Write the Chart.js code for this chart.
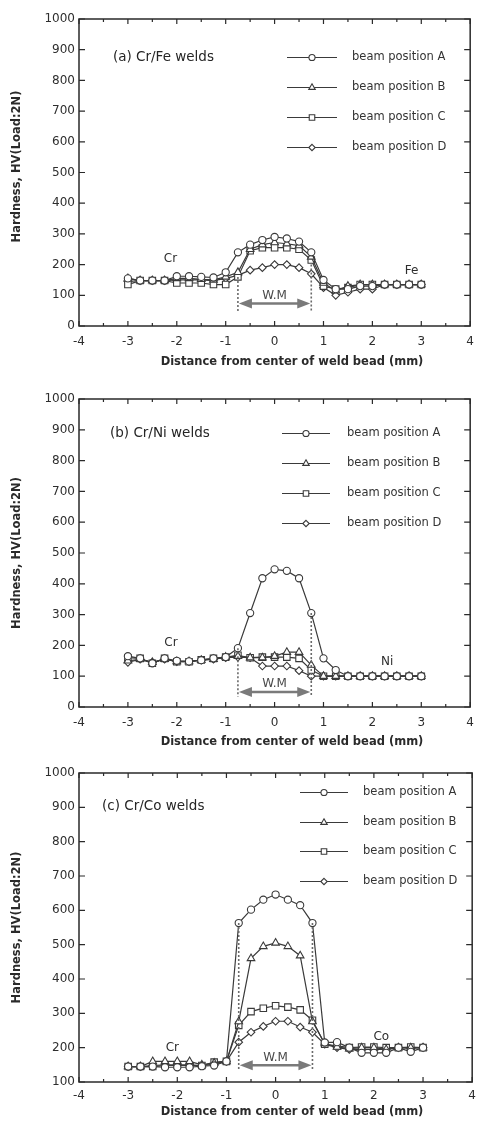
<!DOCTYPE html>
<html>
<head>
<meta charset="utf-8">
<script src="https://cdn.jsdelivr.net/npm/chart.js@4.4.1/dist/chart.umd.min.js"></script>
<style>
html,body{margin:0;padding:0;background:#ffffff;}
#wrap{position:relative;width:483px;height:1121px;overflow:hidden;background:#fff;}
#wrap canvas{position:absolute;left:0;}
</style>
</head>
<body>
<div id="wrap">
<canvas id="panelA" width="483" height="369" style="top:0px"></canvas>
<canvas id="panelB" width="483" height="380" style="top:369px"></canvas>
<canvas id="panelC" width="483" height="372" style="top:749px"></canvas>
</div>
<script>
// ---------------- data ----------------
const distanceMm = [-3,-2.75,-2.5,-2.25,-2,-1.75,-1.5,-1.25,-1,-0.75,-0.5,-0.25,0,0.25,0.5,0.75,1,1.25,1.5,1.75,2,2.25,2.5,2.75,3];
const seriesNames = ['beam position A','beam position B','beam position C','beam position D'];
const xTickValues = [-4,-3,-2,-1,0,1,2,3,4];
const yTicksFromZero = [0,100,200,300,400,500,600,700,800,900,1000];
const yTicksFromHundred = [100,200,300,400,500,600,700,800,900,1000];
const xTitle = 'Distance from center of weld bead (mm)';
const yTitle = 'Hardness, HV(Load:2N)';

// (a) Cr/Fe welds
const crFeA = [155,148,148,148,162,162,160,158,175,240,265,280,290,285,275,240,150,120,120,130,130,135,135,135,135];
const crFeB = [155,148,148,148,155,155,152,150,160,175,250,265,272,268,262,225,140,115,130,135,135,135,135,135,135];
const crFeC = [135,148,148,148,140,140,140,135,135,160,245,255,255,255,250,215,130,120,125,135,135,135,135,135,135];
const crFeD = [145,148,148,148,150,150,150,148,155,165,182,190,200,200,190,170,125,100,110,120,120,135,135,135,135];

// (b) Cr/Ni welds
const crNiA = [165,158,142,158,150,148,152,158,162,191,305,418,447,442,418,305,158,120,100,100,100,100,100,100,100];
const crNiB = [150,155,145,155,148,148,152,155,162,165,160,160,165,178,178,136,100,100,100,100,100,100,100,100,100];
const crNiC = [160,158,142,158,147,147,153,158,162,168,160,162,162,162,158,120,100,100,100,100,100,100,100,100,100];
const crNiD = [145,155,145,155,147,147,152,155,160,162,160,133,133,133,118,100,100,100,100,100,100,100,100,100,100];

// (c) Cr/Co welds
const crCoA = [145,145,145,143,143,143,146,148,160,563,602,631,646,631,615,563,215,216,200,185,185,185,200,188,200];
const crCoB = [145,145,160,160,160,160,150,155,160,276,460,495,505,495,468,276,212,202,197,200,200,195,200,200,200];
const crCoC = [145,145,145,148,148,148,148,158,160,265,305,315,322,318,310,280,210,205,200,202,202,200,200,202,200];
const crCoD = [145,145,148,150,150,150,148,152,160,216,245,262,277,277,260,245,210,200,195,195,195,195,200,198,200];

// ---------------- styles ----------------
const FONT = '"DejaVu Sans", "Liberation Sans", Arial, sans-serif';
const INK = '#2e2e2e';
const LINE = '#3a3a3a';
const MARK_STYLES = ['circle','triangle','rect','rectRot'];
const MARK_RADII = [3.6, 4.4, 4.6, 3.8];

function drawMarker(ctx, style, x, y, r) {
  ctx.beginPath();
  if (style === 'circle') {
    ctx.arc(x, y, r, 0, Math.PI * 2);
  } else if (style === 'triangle') {
    ctx.moveTo(x, y - r);
    ctx.lineTo(x + r * 0.866, y + r * 0.5);
    ctx.lineTo(x - r * 0.866, y + r * 0.5);
    ctx.closePath();
  } else if (style === 'rect') {
    const s = r * Math.SQRT1_2;
    ctx.rect(x - s, y - s, 2 * s, 2 * s);
  } else {
    ctx.moveTo(x, y - r); ctx.lineTo(x + r, y); ctx.lineTo(x, y + r); ctx.lineTo(x - r, y); ctx.closePath();
  }
  ctx.fillStyle = '#fff';
  ctx.fill();
  ctx.stroke();
}

function makePanel(canvasId, cfg) {
  const datasets = cfg.series.map((vals, i) => ({
    label: seriesNames[i],
    data: distanceMm.map((x, j) => ({ x: x, y: vals[j] })),
    showLine: true,
    borderColor: LINE,
    borderWidth: 1.2,
    pointStyle: MARK_STYLES[i],
    pointRadius: MARK_RADII[i],
    pointBorderWidth: 1.1,
    pointBorderColor: LINE,
    pointBackgroundColor: '#ffffff',
    tension: 0,
    fill: false
  }));

  const paper = {
    id: 'paper_' + canvasId,
    beforeDatasetsDraw(chart) {
      const ctx = chart.ctx;
      const { left, right, top, bottom } = chart.chartArea;
      const xs = chart.scales.x, ys = chart.scales.y;
      ctx.save();
      ctx.strokeStyle = '#2a2a2a';
      ctx.lineWidth = 1.5;
      ctx.strokeRect(left, top, right - left, bottom - top);
      ctx.lineWidth = 1.2;
      ctx.beginPath();
      for (let k = -8; k <= 8; k++) {
        const v = k / 2;
        const px = xs.getPixelForValue(v);
        const len = (k % 2 === 0) ? 5 : 3;
        ctx.moveTo(px, bottom); ctx.lineTo(px, bottom - len);
        ctx.moveTo(px, top); ctx.lineTo(px, top + len);
      }
      cfg.yTicks.forEach(v => {
        const py = ys.getPixelForValue(v);
        ctx.moveTo(left, py); ctx.lineTo(left + 6, py);
        ctx.moveTo(right, py); ctx.lineTo(right - 6, py);
      });
      ctx.stroke();
      ctx.restore();
    },
    afterDraw(chart) {
      const ctx = chart.ctx;
      const { left, right, top, bottom } = chart.chartArea;
      const xs = chart.scales.x, ys = chart.scales.y;
      ctx.save();
      // weld-metal dotted boundaries
      const xl = xs.getPixelForValue(-0.75), xr = xs.getPixelForValue(0.75);
      ctx.strokeStyle = '#6a6a6a';
      ctx.lineWidth = 1.6;
      ctx.setLineDash([2, 2]);
      ctx.beginPath();
      ctx.moveTo(xl, ys.getPixelForValue(cfg.wm.topL)); ctx.lineTo(xl, ys.getPixelForValue(cfg.wm.bottom));
      ctx.moveTo(xr, ys.getPixelForValue(cfg.wm.topR)); ctx.lineTo(xr, ys.getPixelForValue(cfg.wm.bottom));
      ctx.stroke();
      ctx.setLineDash([]);
      // double arrow
      const ay = ys.getPixelForValue(cfg.wm.arrow);
      const hl = 14, hw = 5;
      ctx.strokeStyle = '#7a7a7a';
      ctx.fillStyle = '#7a7a7a';
      ctx.lineWidth = 2.5;
      ctx.beginPath(); ctx.moveTo(xl + hl - 2, ay); ctx.lineTo(xr - hl + 2, ay); ctx.stroke();
      ctx.beginPath(); ctx.moveTo(xl + 1, ay); ctx.lineTo(xl + hl, ay - hw); ctx.lineTo(xl + hl, ay + hw); ctx.closePath(); ctx.fill();
      ctx.beginPath(); ctx.moveTo(xr - 1, ay); ctx.lineTo(xr - hl, ay - hw); ctx.lineTo(xr - hl, ay + hw); ctx.closePath(); ctx.fill();
      ctx.fillStyle = '#4a4a4a';
      ctx.font = '12px ' + FONT;
      ctx.textAlign = 'center';
      ctx.textBaseline = 'middle';
      ctx.fillText('W.M', (xl + xr) / 2, ys.getPixelForValue(cfg.wm.text));
      // element labels
      ctx.fillStyle = INK;
      cfg.labels.forEach(l => {
        ctx.fillText(l.text, xs.getPixelForValue(l.x), ys.getPixelForValue(l.y));
      });
      // panel title
      ctx.textAlign = 'left';
      ctx.font = '13.5px ' + FONT;
      ctx.fillStyle = '#252525';
      ctx.fillText(cfg.title, cfg.titlePos[0], top + cfg.titlePos[1]);
      // legend
      ctx.font = '11.5px ' + FONT;
      const lg = cfg.legend;
      datasets.forEach((ds, i) => {
        const yy = Math.round(top + lg.y0 + i * lg.dy) + 0.5;
        ctx.strokeStyle = LINE;
        ctx.lineWidth = 1.2;
        ctx.beginPath(); ctx.moveTo(lg.x0, yy); ctx.lineTo(lg.x1, yy); ctx.stroke();
        ctx.lineWidth = 1.1;
        drawMarker(ctx, MARK_STYLES[i], (lg.x0 + lg.x1) / 2, yy, MARK_RADII[i] * 0.85);
        ctx.fillStyle = '#333';
        ctx.fillText(ds.label, lg.tx, yy);
      });
      // axis titles
      ctx.fillStyle = '#2a2a2a';
      ctx.font = 'bold 11.5px ' + FONT;
      ctx.textAlign = 'center';
      ctx.fillText(xTitle, 292, bottom + cfg.xTitleOffset);
      ctx.translate(17, (top + bottom) / 2 + cfg.yTitleShift);
      ctx.rotate(-Math.PI / 2);
      ctx.fillText(yTitle, 0, 0);
      ctx.restore();
    }
  };

  return new Chart(document.getElementById(canvasId), {
    type: 'scatter',
    data: { datasets },
    options: {
      responsive: false,
      animation: false,
      devicePixelRatio: 1,
      layout: { padding: { left: 0, right: 10, top: cfg.padTop, bottom: cfg.padBottom }, autoPadding: false },
      plugins: { legend: { display: false }, tooltip: { enabled: false }, title: { display: false } },
      scales: {
        x: {
          type: 'linear', min: -4, max: 4,
          afterBuildTicks: s => { s.ticks = xTickValues.map(v => ({ value: v })); },
          afterFit: s => { s.height = cfg.xScaleH; },
          grid: { display: false, drawTicks: false },
          border: { display: false },
          ticks: { padding: cfg.xTickPad, color: INK, font: { family: FONT, size: 12 }, maxRotation: 0, autoSkip: false, callback: v => String(v) }
        },
        y: {
          type: 'linear', min: cfg.yTicks[0], max: 1000,
          afterBuildTicks: s => { s.ticks = cfg.yTicks.map(v => ({ value: v })); },
          afterFit: s => { s.width = 79; },
          grid: { display: false, drawTicks: false },
          border: { display: false },
          ticks: { padding: 4, color: INK, font: { family: FONT, size: 12 }, autoSkip: false, callback: v => String(v) }
        }
      }
    },
    plugins: [paper]
  });
}

makePanel('panelA', {
  series: [crFeA, crFeB, crFeC, crFeD],
  yTicks: yTicksFromZero,
  padTop: 19, padBottom: 0, xScaleH: 43, xTickPad: 9, xTitleOffset: 36, yTitleShift: -6,
  title: '(a) Cr/Fe welds', titlePos: [113, 38],
  legend: { x0: 287, x1: 337, tx: 352, y0: 38, dy: 30 },
  wm: { topL: 160, topR: 200, bottom: 45, arrow: 73, text: 98 },
  labels: [{ text: 'Cr', x: -2.13, y: 218 }, { text: 'Fe', x: 2.8, y: 180 }]
});

makePanel('panelB', {
  series: [crNiA, crNiB, crNiC, crNiD],
  yTicks: yTicksFromZero,
  padTop: 30, padBottom: 0, xScaleH: 42, xTickPad: 9, xTitleOffset: 35, yTitleShift: 0,
  title: '(b) Cr/Ni welds', titlePos: [110, 34],
  legend: { x0: 282, x1: 330, tx: 347, y0: 34, dy: 30 },
  wm: { topL: 191, topR: 305, bottom: 33, arrow: 49, text: 76 },
  labels: [{ text: 'Cr', x: -2.12, y: 207 }, { text: 'Ni', x: 2.3, y: 147 }]
});

makePanel('panelC', {
  series: [crCoA, crCoB, crCoC, crCoD],
  yTicks: yTicksFromHundred,
  padTop: 24, padBottom: 2, xScaleH: 37, xTickPad: 7, xTitleOffset: 30, yTitleShift: 0,
  title: '(c) Cr/Co welds', titlePos: [102, 33],
  legend: { x0: 300, x1: 348, tx: 363, y0: 19, dy: 29.5 },
  wm: { topL: 563, topR: 563, bottom: 134, arrow: 149, text: 170 },
  labels: [{ text: 'Cr', x: -2.1, y: 199 }, { text: 'Co', x: 2.15, y: 231 }]
});
</script>
</body>
</html>
